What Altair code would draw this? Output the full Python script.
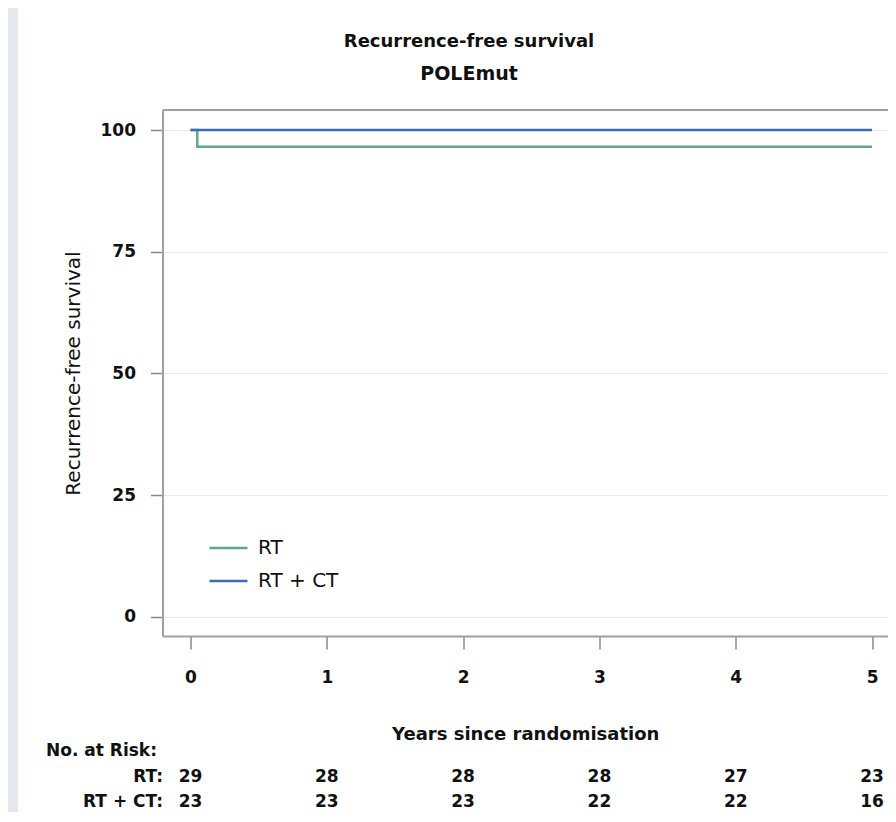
import altair as alt
import pandas as pd

# ---- data ----
groups = ["RT", "RT + CT"]
rt_time = [0.0, 0.05, 5.0]
rt_surv = [100.0, 96.55, 96.55]
rtct_time = [0.0, 5.0]
rtct_surv = [100.0, 100.0]

risk_times = [0, 1, 2, 3, 4, 5]
risk_rt = [29, 28, 28, 28, 27, 23]
risk_rtct = [23, 23, 23, 22, 22, 16]

x_ticks = [0, 1, 2, 3, 4, 5]
y_ticks = [0, 25, 50, 75, 100]

title_lines = ["Recurrence-free survival", "POLEmut"]

GREEN = "#5fa98b"
BLUE = "#3a6db5"
FRAME = "#a0a0a0"
TXT = "#111111"
FONT = "DejaVu Sans"

W, H = 725.5, 526
PAD = {"left": 154.5, "top": 102, "right": 0, "bottom": 176}
xdom = [-0.2054, 5.117]
ydom = [-3.97, 104.11]

curves = pd.concat([
    pd.DataFrame({"time": rt_time, "surv": rt_surv, "group": groups[0]}),
    pd.DataFrame({"time": rtct_time, "surv": rtct_surv, "group": groups[1]}),
])

X = alt.X("time:Q", scale=alt.Scale(domain=xdom, nice=False, zero=False),
          title="Years since randomisation",
          axis=alt.Axis(values=x_ticks, format="d", grid=False,
                        domainColor=FRAME, domainWidth=2,
                        tickColor="#888888", tickWidth=1.5, tickSize=13,
                        labelFont=FONT, labelFontSize=17, labelFontWeight="bold",
                        labelColor=TXT, labelPadding=20,
                        titleFont=FONT, titleFontSize=18, titleFontWeight="bold",
                        titleColor=TXT, titlePadding=40))

Y = alt.Y("surv:Q", scale=alt.Scale(domain=ydom, nice=False, zero=False),
          title="Recurrence-free survival",
          axis=alt.Axis(values=y_ticks, grid=True, gridColor="#e8e8e8", gridWidth=1,
                        domainColor=FRAME, domainWidth=2,
                        tickColor="#888888", tickWidth=1.5, tickSize=12,
                        labelFont=FONT, labelFontSize=17, labelFontWeight="bold",
                        labelColor=TXT, labelPadding=15,
                        titleFont=FONT, titleFontSize=20, titleFontWeight="normal",
                        titleColor=TXT, titlePadding=17))

lines = alt.Chart(curves).mark_line(interpolate="step-after", strokeWidth=2.5).encode(
    x=X, y=Y,
    color=alt.Color("group:N",
                    scale=alt.Scale(domain=groups, range=[GREEN, BLUE]),
                    legend=alt.Legend(orient="none", legendX=45.5, legendY=430,
                                      title=None, symbolType="stroke",
                                      symbolSize=1444, symbolStrokeWidth=2.5,
                                      clipHeight=16, rowPadding=13, padding=0,
                                      labelFont=FONT, labelFontSize=20,
                                      labelColor=TXT, labelOffset=9)),
)

top_rule = alt.Chart(pd.DataFrame({"a": [0]})).mark_rule(color=FRAME, strokeWidth=2).encode(
    x=alt.value(0), x2=alt.value(W), y=alt.value(0))

strip = alt.Chart(pd.DataFrame({"a": [0]})).mark_rect(color="#e4e7ec").encode(
    x=alt.value(-PAD["left"]), x2=alt.value(-PAD["left"] + 10),
    y=alt.value(-PAD["top"]), y2=alt.value(H + PAD["bottom"]))

ttl = dict(font=FONT, fontSize=18, fontWeight="bold", color=TXT, baseline="middle", align="center")
title1 = alt.Chart(pd.DataFrame({"t": [title_lines[0]]})).mark_text(**ttl).encode(
    x=alt.value(306.5), y=alt.value(-68), text="t:N")
title2 = alt.Chart(pd.DataFrame({"t": [title_lines[1]]})).mark_text(fontSize=19, **{k: v for k, v in ttl.items() if k != "fontSize"}).encode(
    x=alt.value(306.5), y=alt.value(-36), text="t:N")

txt = dict(font=FONT, fontSize=17, fontWeight="bold", color=TXT, baseline="middle")

header = alt.Chart(pd.DataFrame({"t": ["No. at Risk:"]})).mark_text(align="left", **txt).encode(
    x=alt.value(-116.5), y=alt.value(641), text="t:N")

layers = [strip, lines, top_rule, title1, title2, header]
row_y = [667, 692]
for lab, vals, yy in zip(groups, [risk_rt, risk_rtct], row_y):
    layers.append(alt.Chart(pd.DataFrame({"t": [lab + ":"]})).mark_text(align="right", **txt).encode(
        x=alt.value(0.5), y=alt.value(yy), text="t:N"))
    df = pd.DataFrame({"time": risk_times, "n": vals})
    layers.append(alt.Chart(df).mark_text(align="center", **txt).encode(
        x=X, y=alt.value(yy), text="n:Q"))

chart = alt.layer(*layers).properties(
    width=W, height=H,
    autosize=alt.AutoSizeParams(type="none"),
    padding=PAD,
    background="white",
).configure_view(stroke=None)

chart.save("out.html", embed_options={"renderer": "svg", "actions": False})
